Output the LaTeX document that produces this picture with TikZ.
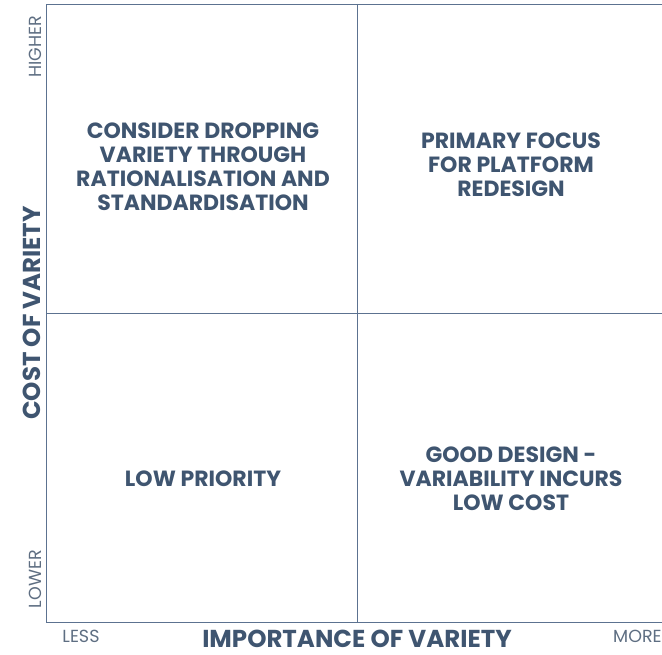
\documentclass[tikz,border=0pt]{standalone}
\usepackage{fontspec}
\setmainfont{Poppins}
\usepackage{xcolor}
\usetikzlibrary{positioning}
\definecolor{SlateText}{HTML}{3F5570}
\definecolor{AxisLine}{HTML}{5C7290}
\definecolor{TickGray}{HTML}{5E6E82}

\begin{document}
\begin{tikzpicture}[x=1pt, y=-1pt,
  quad/.style={font=\fontsize{22}{24}\selectfont\bfseries, text=SlateText, align=center, inner sep=0pt},
  axistitle/.style={font=\fontsize{24.5}{27}\selectfont\bfseries, text=SlateText, inner sep=0pt},
  tick/.style={font=\fontsize{17.5}{20}\selectfont, text=TickGray, inner sep=0pt},
  grid/.style={AxisLine, line width=0.9pt}
]
\useasboundingbox (0,0) rectangle (662,655);

% frame of the matrix
\coordinate (tl) at (46,4);
\coordinate (tr) at (662,4);
\coordinate (bl) at (46,622);
\coordinate (br) at (662,622);
\coordinate (ml) at (46,313);
\coordinate (mr) at (662,313);
\coordinate (mt) at (357,4);
\coordinate (mb) at (357,622);
\draw[grid] (tr) -- (tl) -- (bl) -- (br);
\draw[grid] (ml) -- (mr);
\draw[grid] (mt) -- (mb);

% quadrant labels
\node[quad] (consider) at (203,167) {CONSIDER DROPPING\\VARIETY THROUGH\\RATIONALISATION AND\\STANDARDISATION};
\node[quad] (primary) at (511,165) {PRIMARY FOCUS\\FOR PLATFORM\\REDESIGN};
\node[quad] (lowprio) at (203,479) {LOW PRIORITY};
\node[quad] (gooddesign) at (511,479) {GOOD DESIGN -\\VARIABILITY INCURS\\LOW COST};

% axes
\node[axistitle, rotate=90] (costaxis) at (32,313) {COST OF VARIETY};
\node[axistitle] (impaxis) at (357,639) {IMPORTANCE OF VARIETY};
\node[tick, rotate=90] (higher) at (35,47) {HIGHER};
\node[tick, rotate=90] (lower) at (35,579) {LOWER};
\node[tick] (less) at (81,636) {LESS};
\node[tick, anchor=west] (more) at (613,636) {MORE};
\end{tikzpicture}
\end{document}
